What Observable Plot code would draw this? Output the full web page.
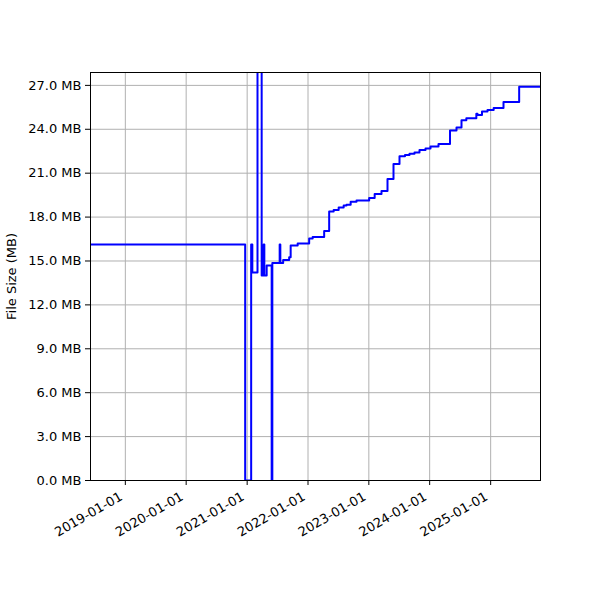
<!DOCTYPE html>
<html><head><meta charset="utf-8">
<script src="https://cdn.jsdelivr.net/npm/d3@7"></script>
<script src="https://cdn.jsdelivr.net/npm/@observablehq/plot@0.6"></script>
<style>
html,body{margin:0;padding:0;background:#fff}
svg{font-family:"DejaVu Sans",sans-serif}
</style>
</head><body><div id="chart"></div>
<script>
const dates = [
  "2018-06-06","2020-12-20","2021-01-25","2021-02-01","2021-03-04","2021-03-29",
  "2021-04-10","2021-04-14","2021-04-28","2021-05-28","2021-06-01","2021-07-15",
  "2021-07-19","2021-08-05","2021-09-10","2021-09-19","2021-10-31","2022-01-08",
  "2022-01-29","2022-04-08","2022-05-08","2022-06-04","2022-07-04","2022-08-03",
  "2022-08-20","2022-09-14","2022-10-19","2023-01-03","2023-02-05","2023-03-18",
  "2023-04-23","2023-05-29","2023-07-04","2023-08-06","2023-09-02","2023-10-02",
  "2023-11-01","2023-12-07","2024-01-06","2024-02-23","2024-05-02","2024-06-10",
  "2024-07-10","2024-08-08","2024-10-07","2024-10-14","2024-11-10","2024-12-13",
  "2025-01-19","2025-03-19","2025-06-21","2025-10-27"
];
const sizesMB = [
  16.13, 0, 16.13, 14.22, 32.0, 14.01,
  16.13, 14.01, 14.70, 0, 14.87, 16.13,
  14.87, 15.07, 15.25, 16.06, 16.20, 16.54,
  16.64, 17.05, 18.39, 18.49, 18.65, 18.80,
  18.85, 19.04, 19.14, 19.31, 19.58, 19.79,
  20.61, 21.63, 22.15, 22.25, 22.33, 22.42,
  22.59, 22.69, 22.83, 23.00, 23.92, 24.13,
  24.61, 24.76, 25.06, 24.98, 25.22, 25.32,
  25.46, 25.86, 26.90, 26.90
];
const yTicks = [0, 3, 6, 9, 12, 15, 18, 21, 24, 27];
const xTickLabels = ["2019-01-01","2020-01-01","2021-01-01","2022-01-01","2023-01-01","2024-01-01","2025-01-01"];
const xDomain = ["2018-06-06", "2025-10-27"];
const yMax = 27.88;

const data = dates.map((d, i) => ({date: new Date(d), size: sizesMB[i]}));
const xTicks = xTickLabels.map(d => new Date(d));

const chart = Plot.plot({
  width: 600, height: 600,
  marginLeft: 90, marginRight: 60, marginTop: 72, marginBottom: 120,
  style: {fontFamily: "DejaVu Sans", fontSize: "13px", background: "white", color: "black"},
  x: {type: "utc", domain: xDomain.map(d => new Date(d))},
  y: {domain: [0, yMax]},
  marks: [
    Plot.gridX(xTicks, {stroke: "#b0b0b0", strokeOpacity: 1, strokeWidth: 1}),
    Plot.gridY(yTicks, {stroke: "#b0b0b0", strokeOpacity: 1, strokeWidth: 1}),
    Plot.line(data, {x: "date", y: "size", curve: "step-after", stroke: "#0000ff", strokeWidth: 2, clip: true}),
    Plot.frame({stroke: "black", strokeWidth: 1}),
    Plot.axisX(xTicks, {tickSize: 5, tickFormat: () => "", label: null}),
    Plot.axisX(xTicks, {tickSize: 0, tickFormat: d3.utcFormat("%Y-%m-%d"), tickRotate: -30, tickPadding: 15, dx: -4, label: null}),
    Plot.axisY(yTicks, {tickFormat: d => d.toFixed(1) + " MB", tickSize: 5, tickPadding: 4,
      label: "File Size (MB)", labelAnchor: "center", labelArrow: "none", labelOffset: 84})
  ]
});
document.getElementById("chart").appendChild(chart);
</script>
</body></html>
